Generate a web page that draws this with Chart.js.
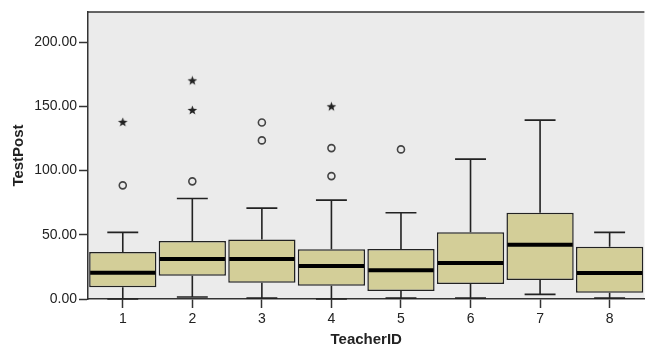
<!DOCTYPE html>
<html>
<head>
<meta charset="utf-8">
<script src="https://cdn.jsdelivr.net/npm/chart.js@4.4.1/dist/chart.umd.min.js"></script>
<style>
  html, body { margin: 0; padding: 0; background: #fff; overflow: hidden; }
  #wrap { width: 650px; height: 349px; }
</style>
</head>
<body>
<div id="wrap"><canvas id="boxChart" width="650" height="349"></canvas></div>
<script>
const teachers = ['1', '2', '3', '4', '5', '6', '7', '8'];
const q1 = [9.1, 18.2, 12.7, 10.4, 6.2, 11.7, 14.8, 4.9];
const q3 = [36.6, 45.1, 46.4, 38.7, 38.9, 51.9, 67.2, 40.7];
const medians = [20.5, 31.1, 31.1, 25.7, 22.3, 28.0, 42.3, 20.2];
const whiskerLow = [0, 1.6, 0.7, 0, 0.7, 0.7, 3.6, 0.7];
const whiskerHigh = [51.9, 78.3, 70.8, 77.0, 67.2, 108.9, 139.3, 51.9];
const circleCat = ['1', '2', '3', '3', '4', '4', '5'];
const circleVal = [88.5, 91.6, 123.5, 137.5, 95.7, 117.5, 116.5];
const starCat = ['1', '2', '2', '4'];
const starVal = [137.5, 146.8, 169.9, 149.7];
const yTicks = [0, 50, 100, 150, 200];

// filled star marker
const star = document.createElement('canvas');
star.width = 11; star.height = 11;
const sc = star.getContext('2d');
sc.fillStyle = '#222';
sc.beginPath();
for (let i = 0; i < 10; i++) {
    const r = i % 2 === 0 ? 5 : 2.1;
    const a = -Math.PI / 2 + i * Math.PI / 5;
    const px = 5.5 + r * Math.cos(a), py = 5.5 + r * Math.sin(a);
    if (i === 0) sc.moveTo(px, py); else sc.lineTo(px, py);
}
sc.closePath();
sc.fill();

const boxParts = {
    id: 'boxParts',
    beforeDraw(chart) {
        const {ctx, chartArea: a} = chart;
        ctx.save();
        ctx.fillStyle = '#EBEBEB';
        ctx.fillRect(a.left, a.top, a.right - a.left, a.bottom - a.top);
        ctx.strokeStyle = '#333';
        ctx.lineWidth = 1.5;
        ctx.beginPath();
        ctx.moveTo(a.left, a.top);
        ctx.lineTo(a.right, a.top);
        ctx.stroke();
        ctx.restore();
    },
    beforeDatasetsDraw(chart) {
        const ctx = chart.ctx;
        const y = chart.scales.y;
        const bars = chart.getDatasetMeta(0).data;
        ctx.save();
        ctx.strokeStyle = '#222';
        ctx.lineWidth = 1.6;
        bars.forEach((bar, i) => {
            const cap = bar.width * 0.23;
            const yHi = y.getPixelForValue(whiskerHigh[i]);
            const yLo = y.getPixelForValue(whiskerLow[i]);
            ctx.beginPath();
            ctx.moveTo(bar.x, y.getPixelForValue(q3[i]));
            ctx.lineTo(bar.x, yHi);
            ctx.moveTo(bar.x - cap, yHi);
            ctx.lineTo(bar.x + cap, yHi);
            ctx.moveTo(bar.x, y.getPixelForValue(q1[i]));
            ctx.lineTo(bar.x, yLo);
            ctx.moveTo(bar.x - cap, yLo);
            ctx.lineTo(bar.x + cap, yLo);
            ctx.stroke();
        });
        ctx.restore();
    },
    afterDatasetsDraw(chart) {
        const ctx = chart.ctx;
        const y = chart.scales.y;
        const bars = chart.getDatasetMeta(0).data;
        ctx.save();
        ctx.strokeStyle = '#000';
        ctx.lineWidth = 4;
        bars.forEach((bar, i) => {
            const ym = y.getPixelForValue(medians[i]);
            ctx.beginPath();
            ctx.moveTo(bar.x - bar.width / 2 + 1, ym);
            ctx.lineTo(bar.x + bar.width / 2 - 1, ym);
            ctx.stroke();
        });
        ctx.restore();
    }
};

const tickFont = {family: 'Liberation Sans', size: 14};
const titleFont = {family: 'Liberation Sans', size: 15, weight: 'bold'};

new Chart(document.getElementById('boxChart').getContext('2d'), {
    type: 'bar',
    data: {
        labels: teachers,
        datasets: [{
            data: teachers.map((t, i) => [q1[i], q3[i]]),
            backgroundColor: '#D3CE98',
            borderColor: '#222',
            borderWidth: 1.5,
            borderSkipped: false,
            barPercentage: 0.967,
            categoryPercentage: 1,
            order: 2
        }, {
            type: 'line',
            data: circleCat.map((c, i) => ({x: c, y: circleVal[i]})),
            showLine: false,
            pointStyle: 'circle',
            pointRadius: 3.5,
            pointBorderWidth: 1.6,
            pointBorderColor: '#444',
            pointBackgroundColor: 'rgba(0,0,0,0)',
            order: 1
        }, {
            type: 'line',
            data: starCat.map((c, i) => ({x: c, y: starVal[i]})),
            showLine: false,
            pointStyle: star,
            order: 1
        }]
    },
    options: {
        responsive: false,
        animation: false,
        events: [],
        layout: {padding: {top: 12, right: 2, left: 0, bottom: 0}},
        plugins: {legend: {display: false}, tooltip: {enabled: false}},
        scales: {
            x: {
                grid: {display: true, offset: false, drawOnChartArea: false, tickLength: 9, tickColor: '#333', tickWidth: 1.5},
                border: {color: '#333', width: 1.5},
                ticks: {font: tickFont, color: '#222', padding: 3},
                title: {display: true, text: 'TeacherID', font: titleFont, color: '#222', padding: {top: 0, bottom: 0}},
                afterFit(scale) { scale.height = 50; }
            },
            y: {
                min: 0,
                max: 223.5,
                afterBuildTicks(scale) { scale.ticks = yTicks.map(v => ({value: v})); },
                grid: {display: true, drawOnChartArea: false, tickLength: 9, tickColor: '#333', tickWidth: 1.5},
                border: {color: '#333', width: 1.5},
                ticks: {font: tickFont, color: '#222', padding: 2, callback: v => v.toFixed(2)},
                title: {display: true, text: 'TestPost', font: titleFont, color: '#222', padding: {top: 10, bottom: 0}},
                afterFit(scale) { scale.width = 88; }
            }
        }
    },
    plugins: [boxParts]
});
</script>
</body>
</html>
